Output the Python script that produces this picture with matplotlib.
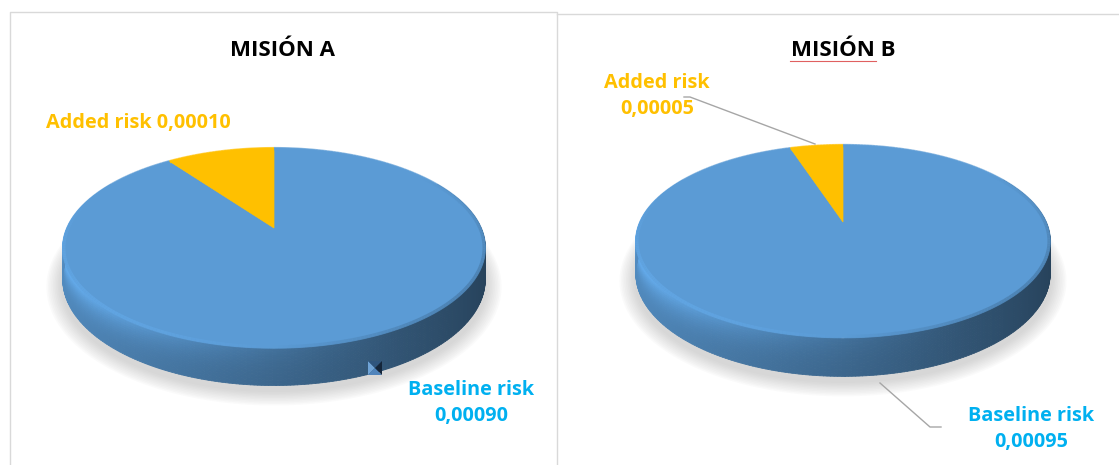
import numpy as np
import matplotlib.pyplot as plt
import matplotlib.colors as mcolors
from matplotlib.patches import Polygon
from matplotlib.collections import PolyCollection, LineCollection

titles = ['MISIÓN A', 'MISIÓN B']
categories = ['Baseline risk', 'Added risk']
baseline = [0.00090, 0.00095]
added = [0.00010, 0.00005]

slice_colors = ['#5B9BD5', '#FFC000']
label_colors = ['#00B0F0', '#FFC000']

plt.rcParams['font.family'] = ['Open Sans', 'DejaVu Sans']

fig = plt.figure(figsize=(11.19, 4.65), dpi=100)
ax = fig.add_axes([0, 0, 1, 1])
ax.set_xlim(0, 1119)
ax.set_ylim(465, 0)
ax.axis('off')

K = 0.2  # perspective strength


def project(cx, cy, a, b, th, drop=0.0):
    # th measured clockwise from 12 o'clock on the disk
    x = np.sin(th)
    z = -np.cos(th)
    s = 1.0 / (1.0 - K * z)
    return cx + a * x * s, cy + b * z * s + drop * s


def shade(color, f):
    rgb = np.array(mcolors.to_rgb(color)) * f
    return tuple(np.clip(rgb, 0, 1))


def pie3d(cx, cy, a, b, depth, values, colors):
    total = sum(values)
    bounds = np.concatenate([[0], np.cumsum(values) / total * 2 * np.pi])

    # soft shadow under the pie
    th = np.linspace(0, 2 * np.pi, 240)
    for g in range(10, 0, -1):
        sx, sy = project(cx, cy + 5, a + g * 1.6, b + g * 1.2, th, depth)
        ax.add_patch(Polygon(np.c_[sx, sy], closed=True, fc='#9a9a9a', ec='none',
                             alpha=0.045, zorder=1))

    # side wall
    quads, qcols = [], []
    thv = np.linspace(np.pi / 3, 5 * np.pi / 3, 300)
    nrows = 16
    for t0, t1 in zip(thv[:-1], thv[1:]):
        tm = (t0 + t1) / 2
        k = min(np.searchsorted(bounds, tm) - 1, len(values) - 1)
        base = 0.66 - 0.24 * np.sin(tm)
        for r in range(nrows):
            d0 = depth * r / nrows
            d1 = depth * (r + 1) / nrows
            xa, ya = project(cx, cy, a, b, np.array([t0, t1]), d0)
            xb, yb = project(cx, cy, a, b, np.array([t1, t0]), d1)
            u = (r + 0.5) / nrows
            light = 1 + 0.34 * (1 - u) ** 2 * np.clip(0.5 - np.sin(tm), 0, 1.5) / 1.5
            quads.append(np.c_[np.r_[xa, xb], np.r_[ya, yb]])
            qcols.append(shade(colors[k], base * light))
    ax.add_collection(PolyCollection(quads, facecolors=qcols, edgecolors=qcols,
                                     linewidths=0.6, zorder=2))

    # top face wedges
    for k in range(len(values)):
        t = np.linspace(bounds[k], bounds[k + 1], 200)
        px, py = project(cx, cy, a, b, t)
        pts = np.r_[[[cx, cy]], np.c_[px, py]]
        ax.add_patch(Polygon(pts, closed=True, fc=colors[k], ec=colors[k], lw=0.5, zorder=3))

    # bevel on the rim of the top face
    t = np.linspace(0, 2 * np.pi, 361)
    px, py = project(cx, cy, a - 1, b - 0.8, t)
    segs = [[(px[i], py[i]), (px[i + 1], py[i + 1])] for i in range(len(t) - 1)]
    cols = []
    for i in range(len(t) - 1):
        tm = (t[i] + t[i + 1]) / 2
        k = min(np.searchsorted(bounds, tm) - 1, len(values) - 1)
        x = np.sin(tm)
        z = -np.cos(tm)
        f = 1.0 + 0.12 * max(0.0, -x) * max(0.0, z + 0.3) - 0.22 * max(0.0, x) * max(0.0, z + 0.6)
        cols.append(shade(colors[k], f))
    ax.add_collection(LineCollection(segs, colors=cols, linewidths=2.5, alpha=0.7, zorder=4))


# panel frames
ax.plot([10, 10, 557, 557], [470, 12, 12, 470], color='#D9D9D9', lw=1, zorder=0)
ax.plot([557, 1119], [14, 14], color='#D9D9D9', lw=1, zorder=0)

centers = [(274, 228, 207, 96, 30), (843, 222, 203, 92.5, 31)]
title_x = [283, 843]

for i in range(2):
    cx, cy, a, b, d = centers[i]
    pie3d(cx, cy, a, b, d, [baseline[i], added[i]], slice_colors)
    ax.text(title_x[i], 50, titles[i], ha='center', va='center', fontsize=16,
            fontweight='bold', color='black', zorder=5)

# red spell-check underline under MISIÓN in the second title
ax.plot([790, 876], [61, 61], color='#E06060', lw=0.8, zorder=5)

fs = 14.3


def fmt(v):
    return f'{v:.5f}'.replace('.', ',')


# labels, panel A
ax.text(138, 123, '%s %s' % (categories[1], fmt(added[0])),
        ha='center', va='center', fontsize=fs, fontweight='bold', color=label_colors[1], zorder=5)
ax.text(471, 403, '%s\n%s' % (categories[0], fmt(baseline[0])),
        ha='center', va='center', fontsize=fs, fontweight='bold', color=label_colors[0],
        linespacing=1.42, zorder=5)

# selection handle on panel A
hx, hy, hs = 368, 361, 14
ax.add_patch(Polygon([(hx, hy), (hx + hs / 2, hy + hs / 2), (hx, hy + hs)], fc='#6FA3D6', ec='none', zorder=6))
ax.add_patch(Polygon([(hx, hy + hs), (hx + hs / 2, hy + hs / 2), (hx + hs, hy + hs)], fc='#4F84BC', ec='none', zorder=6))
ax.add_patch(Polygon([(hx, hy), (hx + hs / 2, hy + hs / 2), (hx + hs, hy)], fc='#2F557D', ec='none', zorder=6))
ax.add_patch(Polygon([(hx + hs, hy), (hx + hs / 2, hy + hs / 2), (hx + hs, hy + hs)], fc='#15263A', ec='none', zorder=6))

# labels, panel B with leader lines
ax.text(657, 96, '%s\n%s' % (categories[1], fmt(added[1])),
        ha='center', va='center', fontsize=fs, fontweight='bold', color=label_colors[1],
        linespacing=1.42, zorder=5)
ax.plot([684, 690, 815], [97, 97, 144], color='#A6A6A6', lw=1, zorder=5)
ax.text(1031, 429, '%s\n%s' % (categories[0], fmt(baseline[1])),
        ha='center', va='center', fontsize=fs, fontweight='bold', color=label_colors[0],
        linespacing=1.42, zorder=5)
ax.plot([880, 930, 941], [383, 427, 427], color='#A6A6A6', lw=1, zorder=5)

fig.savefig('out.png', dpi=100, facecolor='white')
